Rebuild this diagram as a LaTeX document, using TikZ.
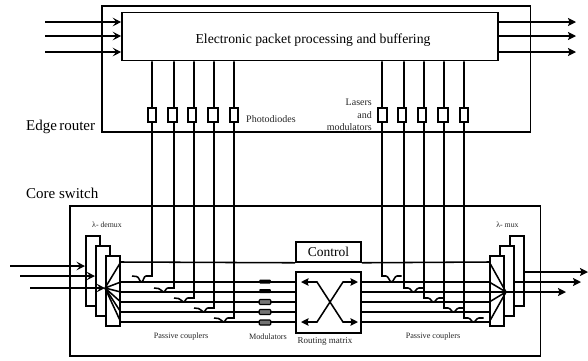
\documentclass[tikz,border=0pt]{standalone}
\usepackage{fontspec}
\setmainfont{Liberation Serif}
\usetikzlibrary{arrows.meta}
\tikzset{
  ln/.style={line width=1.55pt,line join=miter},
  pd/.style={draw,ln,fill=white,inner sep=0pt,minimum height=14.5pt},
  mod/.style={fill=black,inner sep=0pt,minimum width=11.5pt,minimum height=4pt,rounded corners=0.8pt},
  modb/.style={mod,fill=black!55,draw=black,line width=1.1pt,minimum height=5pt},
  inarr/.style={ln,-{Stealth[length=8.5pt,width=8.5pt,inset=3.5pt]}},
  outarr/.style={ln,-{Stealth[length=8pt,width=8pt,inset=1.5pt]}},
  lab/.style={inner sep=0pt,text=black!85,font=\fontsize{8.2pt}{9pt}\selectfont,align=right},
  big/.style={inner sep=0pt,font=\fontsize{15pt}{17pt}\selectfont},
}
\newcommand{\rectnode}[6]{\node[draw,ln,#6,inner sep=0pt,minimum width=#4pt-#2pt,minimum height=#5pt-#3pt] (#1) at ({(#2+#4)/2},{(#3+#5)/2}) {};}
\begin{document}
\begin{tikzpicture}[x=1pt,y=-1pt]
\useasboundingbox (0,0) rectangle (588,360);
% edge router and core switch frames
\rectnode{edge}{102}{6}{530.5}{132}{}
\rectnode{core}{70}{206}{540.5}{356}{}
% input coordinates
\foreach \n/\x/\y in {1/152/276,2/174/288,3/194/298,4/214/308,5/234/318}{\coordinate (L\n) at (\x,\y);}
\foreach \n/\x/\y in {1/382/276,2/404/288,3/424/298,4/444/308,5/464/318}{\coordinate (R\n) at (\x,\y);}
\foreach \n/\y in {0/262,1/282,2/292,3/302,4/312,5/322}{\coordinate (h\n) at (0,\y);}
% processing box
\node[draw,ln,fill=white,inner sep=0pt,minimum width=376pt,minimum height=48pt] (proc) at (310,36.5) {};
\node[inner sep=0pt,font=\fontsize{13.7pt}{15pt}\selectfont] (proct) at (313,40) {Electronic packet processing and buffering};
% demux / mux stacks
\rectnode{dA}{86}{236}{100}{306}{fill=white}
\rectnode{dB}{96}{246}{110}{316}{fill=white}
\rectnode{dC}{106}{256}{120}{326}{fill=white}
\rectnode{mA}{510}{236}{524}{306}{fill=white}
\rectnode{mB}{500}{246}{514}{316}{fill=white}
\rectnode{mC}{490}{256}{504}{326}{fill=white}
% control and routing
\node[draw,ln,inner sep=0pt,minimum width=65pt,minimum height=20pt] (ctrl) at (328.5,252) {\fontsize{13.5pt}{15pt}\selectfont Control};
\node[draw,ln,inner sep=0pt,minimum width=65pt,minimum height=61pt] (rout) at (328.5,302.5) {};
\coordinate (fanL) at (105,288);
\coordinate (fanR) at (506,292);
% horizontal fibres
\draw[ln] (dC.east |- h0) -- (ctrl.south west);
\draw[ln] (ctrl.south east) -- (mC.west |- h0);
\foreach \n in {1,...,5}{
  \draw[ln] (dC.east |- h\n) -- (rout.west |- h\n);
  \draw[ln] (rout.east |- h\n) -- (mC.west |- h\n);
}
\node[mod] (mod1) at (265,281.5) {};
\node[mod] (mod2) at (265,291) {};
\node[modb] (mod3) at (265,302) {};
\node[modb] (mod4) at (265,312) {};
\node[modb] (mod5) at (265,322.5) {};
% fans
\foreach \n in {0,...,5}{\draw[ln] (fanL) -- (dC.east |- h\n);}
\foreach \n in {0,1,2,3,5}{\draw[ln] (fanR) -- (mC.west |- h\n);}
% vertical fibres with couplers
\foreach \n/\d in {1/6,2/4,3/4,4/4,5/4}{
  \draw[ln] (proc.south -| L\n) -- (L\n) -- ++(-6,0)
     .. controls +(-2.5,0) and +(2,0) .. ++(-4.5,\d)
     .. controls +(-2,0) and +(2.5,0) .. ++(-5,-\d+0.5) -- ++(-4.5,-0.5);
  \draw[ln] (proc.south -| R\n) -- (R\n) -- ++(4,0)
     .. controls +(2.5,0) and +(-2,0) .. ++(5.5,\d)
     .. controls +(2,0) and +(-2.5,0) .. ++(5.5,-\d) -- ++(4.5,0);
}
% photodiodes and lasers
\foreach \n/\x/\w in {1/152/8,2/172.5/8.5,3/192/8,4/213/10,5/234/8}{\node[pd,minimum width=\w pt] (pd\n) at (\x,115) {};}
\foreach \n/\x/\w in {1/382.5/8.5,2/402/8.5,3/422/8.5,4/443/10,5/464/8}{\node[pd,minimum width=\w pt] (ls\n) at (\x,115) {};}
% router arrows
\coordinate (a1) at (45,22);\coordinate (a2) at (45,36);\coordinate (a3) at (45,52);
\coordinate (b1) at (576,22);\coordinate (b2) at (576,36);\coordinate (b3) at (576,52);
\foreach \n in {1,2,3}{
  \draw[inarr] (a\n) -- (proc.west |- a\n);
  \draw[outarr] (proc.east |- b\n) -- (b\n);
}
% core arrows
\coordinate (c1s) at (10,266);\coordinate (c1e) at (85,266);
\coordinate (c2s) at (20,276);\coordinate (c2e) at (95,276);
\coordinate (c3s) at (30,288);\coordinate (c3e) at (105,288);
\foreach \n in {1,2,3}{\draw[inarr] (c\n s) -- (c\n e);}
\coordinate (d1e) at (588,272);\coordinate (d2e) at (581,282);\coordinate (d3e) at (566,292);
\draw[outarr] (mA.east |- d1e) -- (d1e);
\draw[outarr] (mB.east |- d2e) -- (d2e);
\draw[outarr] (fanR) -- (d3e);
% routing matrix crossing
\coordinate (xa) at (301,282);\coordinate (xb) at (317,282);\coordinate (xc) at (343,322);\coordinate (xd) at (358,322);
\coordinate (xe) at (301,322);\coordinate (xf) at (317,322);\coordinate (xg) at (343,282);\coordinate (xh) at (358,282);
\draw[ln,{Stealth[length=7.5pt,width=7.5pt,inset=1pt]}-{Stealth[length=7.5pt,width=7.5pt,inset=1pt]}] (xa) -- (xb) -- (xc) -- (xd);
\draw[ln,{Stealth[length=7.5pt,width=7.5pt,inset=1pt]}-{Stealth[length=7.5pt,width=7.5pt,inset=1pt]}] (xe) -- (xf) -- (xg) -- (xh);
% labels
\node[big,anchor=west] (er) at (26,127) {Edge\hspace{-1.5pt} router};
\node[big,anchor=west] (cs) at (26,193) {Core switch};
\node[lab,anchor=west,font=\fontsize{10pt}{11pt}\selectfont] (ph) at (246,119) {Photodiodes};
\node[lab,anchor=east,font=\fontsize{10pt}{12.3pt}\selectfont] (lm) at (372,115) {Lasers\\and\\modulators};
\node[lab,anchor=center,font=\fontsize{7.8pt}{9pt}\selectfont] (ld) at (107,225) {λ- demux};
\node[lab,anchor=center,font=\fontsize{7.8pt}{9pt}\selectfont] (lx) at (507.5,225) {λ- mux};
\node[lab,anchor=center] (p1) at (181,337) {Passive couplers};
\node[lab,anchor=center] (mo) at (268,337) {Modulators};
\node[lab,anchor=center,font=\fontsize{9pt}{10pt}\selectfont] (rm) at (325,341) {Routing matrix};
\node[lab,anchor=center] (p2) at (433,337) {Passive couplers};
\end{tikzpicture}
\end{document}
